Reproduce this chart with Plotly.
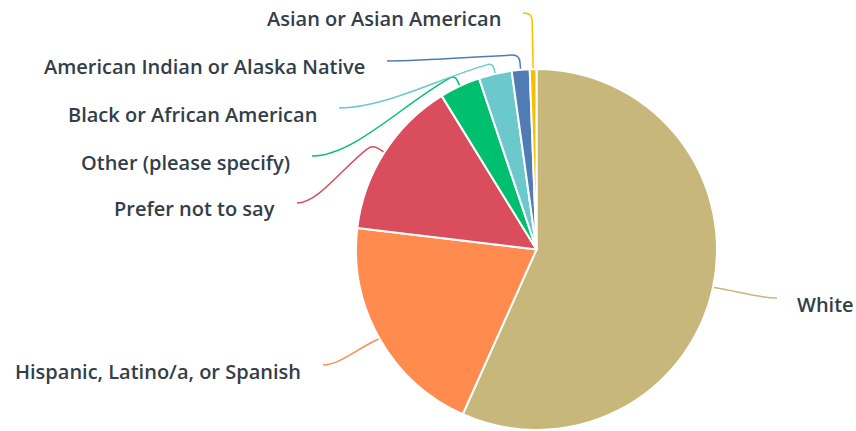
import math
import plotly.graph_objects as go

categories = ["White", "Hispanic, Latino/a, or Spanish", "Prefer not to say",
              "Other (please specify)", "Black or African American",
              "American Indian or Alaska Native", "Asian or Asian American"]
values = [56.7, 20.2, 14.3, 3.65, 2.95, 1.6, 0.6]
colors = ["#C8B77A", "#FF8B4F", "#D94D5D", "#00BF6F", "#6BC8CD", "#507CB6", "#F9BE00"]

W, H = 856, 431
CX, CY, R = 536.5, 249.5, 180.5

# label layout: (side, end-point of leader line in px, radial extension in px)
label_layout = {
    "White": ("right", (777, 298), 2),
    "Hispanic, Latino/a, or Spanish": ("left", (323, 365), 3),
    "Prefer not to say": ("left", (297, 203), 14),
    "Other (please specify)": ("left", (312, 156), 12),
    "Black or African American": ("left", (339, 108), 11),
    "American Indian or Alaska Native": ("left", (387, 61), 15),
    "Asian or Asian American": ("left", (523, 13), 56),
}

fig = go.Figure(go.Pie(
    labels=categories, values=values, sort=False, direction="clockwise",
    rotation=0, textinfo="none", hoverinfo="label+percent",
    marker=dict(colors=colors, line=dict(color="white", width=2)),
    domain=dict(x=[(CX - R) / W, (CX + R) / W], y=[1 - (CY + R) / H, 1 - (CY - R) / H]),
    showlegend=False,
))

def px2paper(x, y):
    return x / W, 1 - y / H

def fmt(p):
    x, y = px2paper(*p)
    return "{:.5f},{:.5f}".format(x, y)

total = sum(values)
cum = 0.0
shapes = []
annotations = []
for cat, val, col in zip(categories, values, colors):
    mid = (cum + val / 2) / total * 2 * math.pi
    cum += val
    dx, dy = math.sin(mid), -math.cos(mid)
    side, (tx, ty), ext = label_layout[cat]
    sx, sy = CX + R * dx, CY + R * dy
    ex, ey = CX + (R + ext) * dx, CY + (R + ext) * dy
    rc = min(ext * 0.5, 8)
    p1 = (ex - dx * rc, ey - dy * rc)
    vx, vy = tx - ex, ty - ey
    n = math.hypot(vx, vy)
    p2 = (ex + vx / n * rc, ey + vy / n * rc)
    L = math.hypot(tx - p2[0], ty - p2[1])
    c1 = (p2[0] + vx / n * 0.35 * L, p2[1] + vy / n * 0.35 * L)
    sgn = 1 if ex > tx else -1
    c2 = (tx + sgn * 0.3 * abs(tx - p2[0]), ty)
    path = "M {} L {} Q {} {} C {} {} {}".format(
        fmt((sx, sy)), fmt(p1), fmt((ex, ey)), fmt(p2), fmt(c1), fmt(c2), fmt((tx, ty)))
    shapes.append(dict(type="path", xref="paper", yref="paper", path=path,
                       line=dict(color=col, width=1.5), layer="below"))
    if side == "left":
        ax, anchor = tx - 20, "right"
    else:
        ax, anchor = tx + 18, "left"
    axp, ayp = px2paper(ax, ty + 6)
    annotations.append(dict(x=axp, y=ayp, xref="paper", yref="paper", text=cat,
                            showarrow=False, xanchor=anchor, yanchor="middle",
                            font=dict(family="Open Sans", size=20, color="#333E48", weight=600)))

fig.update_layout(
    width=W, height=H, margin=dict(l=0, r=0, t=0, b=0),
    paper_bgcolor="white", plot_bgcolor="white",
    shapes=shapes, annotations=annotations,
)
fig.write_html("out.html", config={"displayModeBar": False},
               post_script="document.body.style.margin='0';document.body.style.overflow='hidden';")
